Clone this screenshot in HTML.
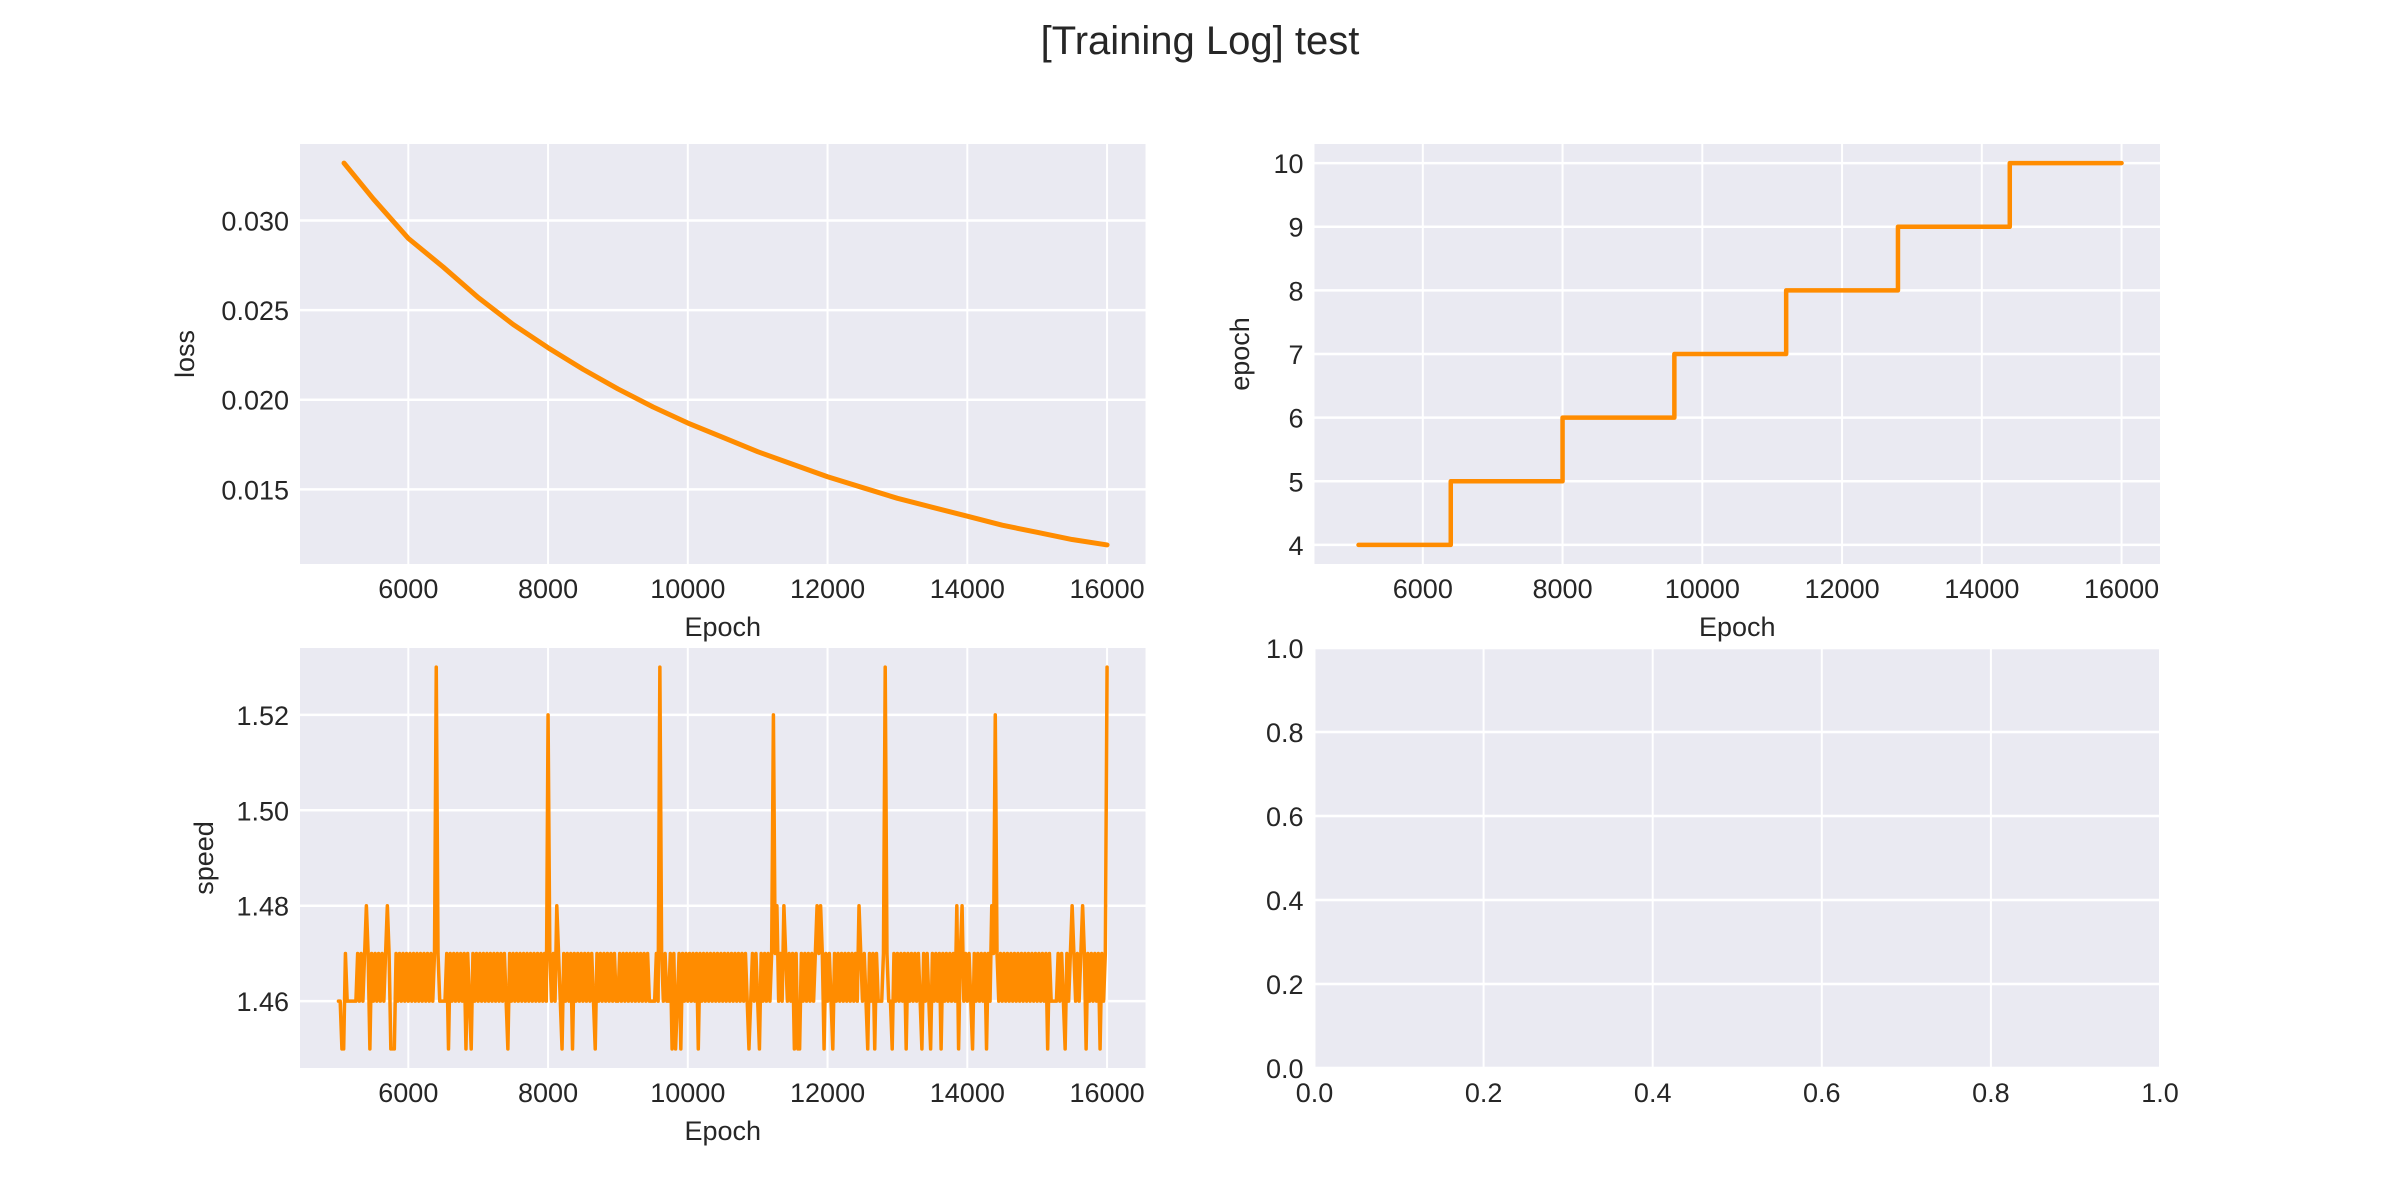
<!DOCTYPE html>
<html><head><meta charset="utf-8"><style>
html,body{margin:0;padding:0;background:#fff;}
svg{display:block;}
text{font-family:"Liberation Sans",Arial,sans-serif;fill:#262626;}
</style></head><body>
<svg id="fig" width="2400" height="1200" viewBox="0 0 2400 1200" xmlns="http://www.w3.org/2000/svg">
<text x="1200" y="54" font-size="40" text-anchor="middle">[Training Log] test</text>
</svg>
<script>
// ---- data ----
const lossEpochs = [5080,5500,6000,6500,7000,7500,8000,8500,9000,9500,10000,10500,11000,11500,12000,12500,13000,13500,14000,14500,15000,15500,16000];
const lossValues = [0.0332,0.0312,0.0290,0.0274,0.0257,0.0242,0.0229,0.0217,0.0206,0.0196,0.0187,0.0179,0.0171,0.0164,0.0157,0.0151,0.0145,0.0140,0.0135,0.0130,0.0126,0.0122,0.0119];
const epochStepEpochs = [5080,6400,8000,9600,11200,12800,14400,16000];
const epochStepValues = [4,5,6,7,8,9,10,10];
const speedStart = 5000;
const speedStep = 25;
// each char: 5=1.45 6=1.46 7=1.47 8=1.48 2=1.52 3=1.53
const speedCodes =
 "6655766666"+"6767678757"+"6767676787"+"5557676767"+
 "6767676767"+"6767673766"+"6675767676"+"7675765767"+
 "6767676767"+"6767676576"+"7676767676"+"7676767676"+
 "2767687657"+"6767576767"+"6767676576"+"7676767676"+
 "6767676767"+"6767676766"+"6676376766"+"7575675767"+
 "6767675767"+"6767676767"+"6767676767"+"6767656767"+
 "6576767672"+"7867687676"+"7575576767"+"6767878757"+
 "6765767676"+"7676767687"+"6765767576"+"6673766576"+
 "7676757676"+"7676576765"+"7676757676"+"7676857867"+
 "6765767676"+"7576872767"+"6767676767"+"6767676767"+
 "6767675766"+"6676765767"+"8767678757"+"6767675767"+"3";
const speedMap = {"5":1.45,"6":1.46,"7":1.47,"8":1.48,"2":1.52,"3":1.53};
const epochTicks = [6000,8000,10000,12000,14000,16000];
const lossTicks = [0.015,0.020,0.025,0.030];
const epochYTicks = [4,5,6,7,8,9,10];
const speedTicks = [1.46,1.48,1.50,1.52];
const unitTicks = [0,0.2,0.4,0.6,0.8,1.0];

const NS="http://www.w3.org/2000/svg";
const fig=document.getElementById('fig');
function el(tag,attrs,parent){const e=document.createElementNS(NS,tag);for(const k in attrs)e.setAttribute(k,attrs[k]);(parent||fig).appendChild(e);return e;}

function makeAxes(name,x0,y0,w,h,xmin,xmax,ymin,ymax,xt,yt,xfmt,yfmt,xlabel,ylabel,ylabelX){
  const g=el('g',{});
  
  
  const bg=el('rect',{x:x0,y:y0,width:w,height:h,fill:'#eaeaf2'},g);
  
  
  const sx=v=>x0+(v-xmin)/(xmax-xmin)*w;
  const sy=v=>y0+h-(v-ymin)/(ymax-ymin)*h;
  xt.forEach(t=>{
    const X=sx(t);
    const l=el('line',{x1:X,x2:X,y1:y0,y2:y0+h,stroke:'#fff','stroke-width':2},g);
    
    
    const tx=el('text',{x:X,y:y0+h+34,'font-size':27,'text-anchor':'middle'},g);
    tx.textContent=xfmt(t);
    
    
  });
  yt.forEach(t=>{
    const Y=sy(t);
    const l=el('line',{x1:x0,x2:x0+w,y1:Y,y2:Y,stroke:'#fff','stroke-width':2.5},g);
    
    
    const tx=el('text',{x:x0-11,y:Y+10,'font-size':27,'text-anchor':'end'},g);
    tx.textContent=yfmt(t);
    
    
  });
  if(xlabel){const t=el('text',{x:x0+w/2,y:y0+h+72,'font-size':27,'text-anchor':'middle'},g);t.textContent=xlabel;
    
    }
  if(ylabel){const t=el('text',{x:ylabelX,y:y0+h/2,'font-size':27,'text-anchor':'middle',transform:`rotate(-90 ${ylabelX} ${y0+h/2})`},g);t.textContent=ylabel;
    
    }
  return {g,sx,sy};
}
function clipLine(ax,pts,name,sw){
  const p=el('polyline',{points:pts.map(q=>ax.sx(q[0]).toFixed(2)+','+ax.sy(q[1]).toFixed(2)).join(' '),fill:'none',stroke:'#ff8c00','stroke-width':sw,'stroke-linejoin':'round','stroke-linecap':'round'},ax.g);
  
  
}
const W=845.5,H=420,L1=300,L2=1314.5,T1=144,T2=648;
const xmin=4450,xmax=16550;
const fmtE=v=>String(v);

// loss
const lmin=Math.min(...lossValues),lmax=Math.max(...lossValues),lr=lmax-lmin;
const a1=makeAxes('loss-axes',L1,T1,W,H,xmin,xmax,lmin-0.05*lr,lmax+0.05*lr,epochTicks,lossTicks,fmtE,v=>v.toFixed(3),'Epoch','loss',194);
clipLine(a1,lossEpochs.map((e,i)=>[e,lossValues[i]]),'loss-line',5);

// epoch
const a2=makeAxes('epoch-axes',L2,T1,W,H,xmin,xmax,3.7,10.3,epochTicks,epochYTicks,fmtE,v=>String(v),'Epoch','epoch',1249);
const stepPts=[];
epochStepEpochs.forEach((e,i)=>{ if(i>0) stepPts.push([e,epochStepValues[i-1]]); stepPts.push([e,epochStepValues[i]]); });
clipLine(a2,stepPts,'epoch-line',4.5);

// speed
const speedValues=speedCodes.split('').map(c=>speedMap[c]);
const smin=Math.min(...speedValues),smax=Math.max(...speedValues),sr=smax-smin;
const a3=makeAxes('speed-axes',L1,T2,W,H,xmin,xmax,smin-0.05*sr,smax+0.05*sr,epochTicks,speedTicks,fmtE,v=>v.toFixed(2),'Epoch','speed',213);
clipLine(a3,speedValues.map((v,i)=>[speedStart+i*speedStep,v]),'speed-line',3.5);

// empty
makeAxes('empty-axes',L2,T2,W,H,0,1,0,1,unitTicks,unitTicks,v=>v.toFixed(1),v=>v.toFixed(1),null,null,0);
</script>
</body></html>
